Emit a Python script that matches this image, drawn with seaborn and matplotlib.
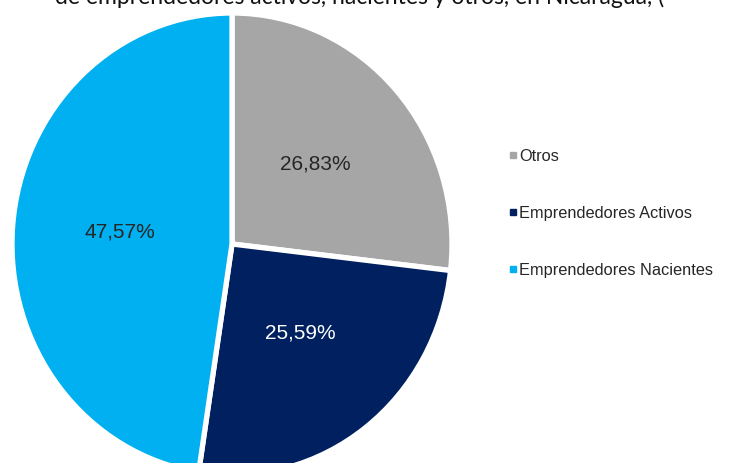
import matplotlib
matplotlib.use("Agg")
import matplotlib.pyplot as plt
import seaborn as sns
import numpy as np
from matplotlib.lines import Line2D

categories = ["Otros", "Emprendedores Activos", "Emprendedores Nacientes"]
values = [26.83, 25.59, 47.57]
label_texts = ["26,83%", "25,59%", "47,57%"]
colors = ["#A6A6A6", "#002060", "#00B0F0"]
title_text = "de emprendedores activos, nacientes y otros, en Nicaragua, ("

sns.set_style("white")
plt.rcParams['font.family'] = ['Liberation Sans', 'DejaVu Sans']

W, H = 732, 463
cx, cy = 232, 244      # pie centre in pixels from top-left
rx, ry = 220, 231      # horizontal / vertical radius in pixels

fig = plt.figure(figsize=(W / 100, H / 100), dpi=100)
ax = fig.add_axes([0, 0, 1, 1])

wedges, _ = ax.pie(values, colors=colors, startangle=90, counterclock=False,
                   center=(0, 0), radius=1,
                   wedgeprops=dict(edgecolor="white", linewidth=3.8))
for w, t, c in zip(wedges, label_texts, colors):
    ang = np.deg2rad((w.theta1 + w.theta2) / 2)
    ax.text(0.51 * np.cos(ang), 0.50 * np.sin(ang) + 0.013, t, ha="center", va="center",
            fontsize=15, color="white" if c == "#002060" else "#262626")

ax.set_aspect("auto")
ax.set_xlim(-cx / rx, (W - cx) / rx)
ax.set_ylim(-(H - cy) / ry, cy / ry)
ax.axis("off")

handles = [Line2D([0], [0], marker="s", linestyle="none", markersize=5,
                  markerfacecolor=c, markeredgecolor=c) for c in colors]
ax.legend(handles, categories, loc="upper left",
          bbox_to_anchor=(509 / W, 1 - 149 / H), bbox_transform=fig.transFigure,
          frameon=False, fontsize=11.8, labelspacing=2.55, handlelength=0.5,
          handletextpad=0.12, borderaxespad=0, borderpad=0)

fig.text(55 / W, 1 - 4 / H, title_text, ha="left", va="baseline",
         fontsize=16.5, family=["Lato", "DejaVu Sans"], color="#111111")

fig.savefig("out.png", dpi=100)
